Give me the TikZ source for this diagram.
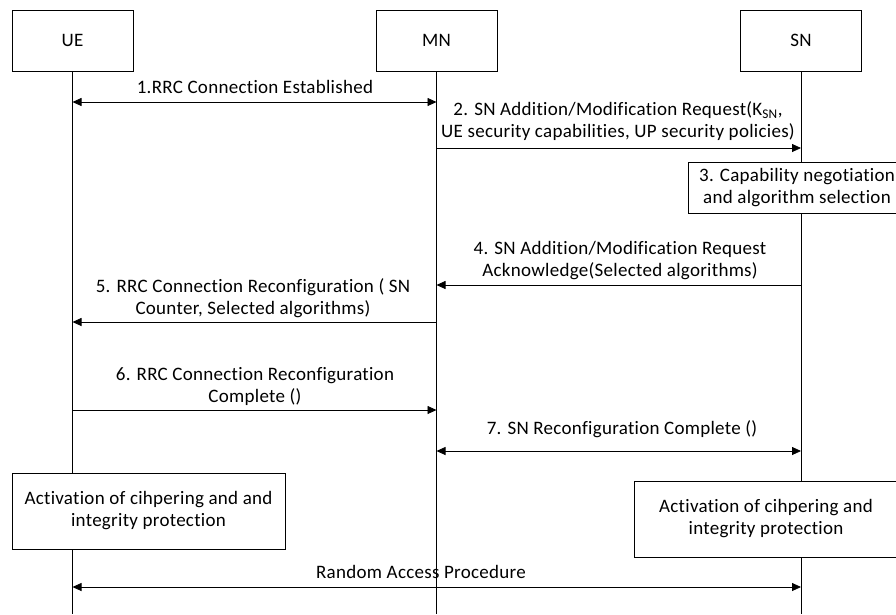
\documentclass[tikz,border=0pt]{standalone}
\usepackage{fontspec}
\setmainfont{Carlito}[RawFeature={-liga}, LetterSpace=1.5]
\usetikzlibrary{arrows.meta}
\begin{document}
\begin{tikzpicture}[x=1pt,y=-1pt,
  font=\fontsize{19}{22}\selectfont,
  line width=0.8pt,
  entity/.style={draw, fill=white, minimum width=121pt, minimum height=61pt, inner sep=0pt},
  actbox/.style={draw, fill=white, align=center, inner sep=0pt},
  msg/.style={-{Triangle[length=9pt,width=8pt]}},
  bimsg/.style={{Triangle[length=9pt,width=8pt]}-{Triangle[length=9pt,width=8pt]}},
  lbl/.style={align=center, inner sep=0pt}]
\useasboundingbox (0,0) rectangle (896,614);
\clip (0,0) rectangle (896,614);

% entities
\node[entity] (ue) at (72.5,40.5) {UE};
\node[entity] (mn) at (436.5,40.5) {MN};
\node[entity] (sn) at (801,40.5) {SN};

% lifelines
\coordinate (ueEnd) at (72.5,614);
\coordinate (mnEnd) at (436.5,614);
\coordinate (snEnd) at (801,614);
\draw (ue.south) -- (ueEnd);
\draw (mn.south) -- (mnEnd);
\draw (sn.south) -- (snEnd);

% message anchor points on the lifelines
\coordinate (ue1) at (72.5,102);  \coordinate (mn1) at (436.5,102);
\coordinate (mn2) at (436.5,148); \coordinate (sn2) at (801,148);
\coordinate (sn4) at (801,285);   \coordinate (mn4) at (436.5,285);
\coordinate (mn5) at (436.5,322); \coordinate (ue5) at (72.5,322);
\coordinate (ue6) at (72.5,410);  \coordinate (mn6) at (436.5,410);
\coordinate (mn7) at (436.5,451); \coordinate (sn7) at (801,451);
\coordinate (ue8) at (72.5,587);  \coordinate (sn8) at (801,587);

% messages
\draw[bimsg] (ue1) -- (mn1);
\node[lbl] (l1) at (255,87) {1.RRC Connection Established};

\draw[msg] (mn2) -- (sn2);
\node[lbl] (l2) at (618,121.5) {2. SN Addition/Modification Request(K\textsubscript{SN},\\UE security capabilities, UP security policies)};

\node[actbox, minimum width=218pt, minimum height=51pt] (cap) at (797,188) {3. Capability negotiation\\and algorithm selection};

\draw[msg] (sn4) -- (mn4);
\node[lbl] (l4) at (620,261) {4. SN Addition/Modification Request\\Acknowledge(Selected algorithms)};

\draw[msg] (mn5) -- (ue5);
\node[lbl] (l5) at (253,298) {5. RRC Connection Reconfiguration ( SN\\Counter, Selected algorithms)};

\draw[msg] (ue6) -- (mn6);
\node[lbl] (l6) at (255,386) {6. RRC Connection Reconfiguration\\Complete ()};

\draw[bimsg] (mn7) -- (sn7);
\node[lbl] (l7) at (622,429) {7. SN Reconfiguration Complete ()};

% activation boxes
\node[actbox, minimum width=273pt, minimum height=76pt] (actue) at (148.5,511) {Activation of cihpering and and\\integrity protection};
\node[actbox, minimum width=264pt, minimum height=76pt] (actsn) at (766,519) {Activation of cihpering and\\integrity protection};

\draw[bimsg] (ue8) -- (sn8);
\node[lbl] (l8) at (421,572) {Random Access Procedure};
\end{tikzpicture}
\end{document}
